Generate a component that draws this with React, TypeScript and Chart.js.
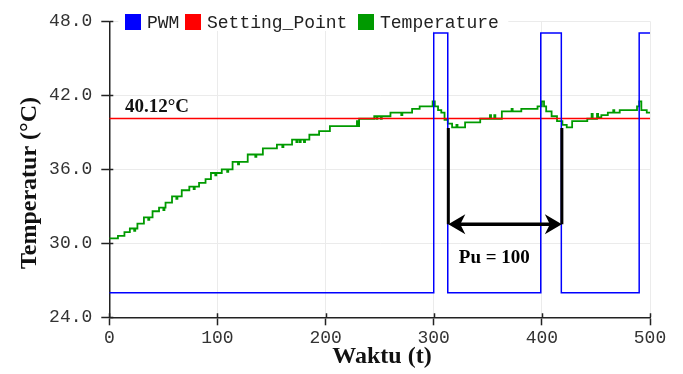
import React, { useEffect, useRef } from 'react';
import { Chart, registerables } from 'chart.js';

Chart.register(...registerables);

// ---- data ----
const seriesLabels = ['PWM', 'Setting_Point', 'Temperature'];
const seriesColors = ['#0000ff', '#ff0000', '#009a00'];

const pwmTimes = [0, 300, 313, 399, 418, 490, 500];
const pwmValues = [26.0, 47.05, 26.0, 47.05, 26.0, 47.05, 47.05];

const setpointTimes = [0, 500];
const setpointValues = [40.12, 40.12];

const tempTimes = [
  0, 8, 14, 19, 23, 24, 26, 32, 36, 37, 40, 46, 50, 51, 52, 58, 62, 63, 67, 74,
  78, 79, 83, 89, 94, 98, 99, 104, 109, 110, 114, 119, 120, 128, 135, 136, 142,
  155, 160, 161, 169, 173, 174, 176, 177, 180, 181, 185, 194, 204, 229, 230, 231,
  245, 247, 248, 251, 252, 260, 270, 271, 280, 287, 299, 301, 304, 307, 310, 313,
  317, 321, 322, 329, 343, 352, 353, 356, 357, 363, 372, 373, 381, 396, 400, 402,
  404, 409, 414, 419, 423, 428, 442, 446, 447, 451, 452, 455, 461, 466, 467, 472,
  488, 490, 492, 497, 500,
];
const tempValues = [
  30.4, 30.6, 30.9, 31.2, 31.0, 31.2, 31.6, 32.1, 31.9, 32.1, 32.6, 32.9, 32.7, 32.9,
  33.3, 33.8, 33.6, 33.8, 34.3, 34.6, 34.4, 34.6, 34.9, 35.2, 35.7, 35.5, 35.7, 36.0,
  35.8, 36.0, 36.6, 36.4, 36.6, 37.2, 37.0, 37.2, 37.7, 38.0, 37.8, 38.0, 38.4, 38.2,
  38.4, 38.2, 38.4, 38.2, 38.4, 38.8, 39.1, 39.5, 39.9, 39.5, 40.1, 40.3, 40.1, 40.3,
  40.1, 40.3, 40.6, 40.4, 40.6, 40.9, 41.1, 41.5, 41.1, 40.8, 40.6, 40.0, 39.7, 39.4,
  39.6, 39.4, 39.8, 40.1, 40.4, 40.1, 40.4, 40.1, 40.7, 40.9, 40.7, 40.9, 41.1, 41.5,
  41.1, 40.7, 40.3, 39.9, 39.6, 39.4, 39.9, 40.1, 40.5, 40.1, 40.5, 40.2, 40.4, 40.6,
  40.8, 40.6, 40.8, 41.1, 41.5, 40.8, 40.6, 40.6,
];

const xTicks = [0, 100, 200, 300, 400, 500];
const yTicks = [24, 30, 36, 42, 48];

const xTitle = 'Waktu (t)';
const yTitle = 'Temperatur (°C)';
const setpointText = '40.12°C';
const periodText = 'Pu = 100';
const periodStart = 313.5;
const periodEnd = 418.5;

const toPoints = (xs: number[], ys: number[]) => xs.map((x, i) => ({ x, y: ys[i] }));

const overlay = {
  id: 'overlay',
  afterDraw(chart: any) {
    const { ctx, chartArea } = chart;
    const x = chart.scales.x;
    const y = chart.scales.y;
    ctx.save();

    // inner part of the tick marks
    ctx.strokeStyle = '#222';
    ctx.lineWidth = 1.5;
    ctx.beginPath();
    for (const v of yTicks) {
      const py = Math.round(y.getPixelForValue(v)) + 0.5;
      ctx.moveTo(chartArea.left, py);
      ctx.lineTo(chartArea.left + 4, py);
    }
    for (const v of xTicks) {
      const px = Math.round(x.getPixelForValue(v)) + 0.5;
      ctx.moveTo(px, chartArea.bottom);
      ctx.lineTo(px, chartArea.bottom - 4);
    }
    ctx.stroke();

    // legend
    ctx.fillStyle = '#ffffff';
    ctx.fillRect(chartArea.left + 9, 8, 390, 23);
    const boxX = [125, 185, 358];
    ctx.font = '18px "Liberation Mono", monospace';
    ctx.textBaseline = 'alphabetic';
    ctx.textAlign = 'left';
    seriesLabels.forEach((lab, i) => {
      ctx.fillStyle = seriesColors[i];
      ctx.fillRect(boxX[i], 14, 16, 16);
      ctx.fillStyle = '#222';
      ctx.fillText(lab, boxX[i] + 22, 27.5);
    });

    // setpoint label
    ctx.fillStyle = '#111';
    ctx.font = 'bold 19px "Liberation Serif", serif';
    ctx.fillText(setpointText, x.getPixelForValue(14.5), y.getPixelForValue(40.67));

    // period annotation
    const x1 = x.getPixelForValue(periodStart);
    const x2 = x.getPixelForValue(periodEnd);
    const yTop = y.getPixelForValue(39.35);
    const yA = y.getPixelForValue(31.55);
    ctx.strokeStyle = '#000';
    ctx.fillStyle = '#000';
    ctx.lineWidth = 3;
    ctx.beginPath();
    ctx.moveTo(x1, yTop);
    ctx.lineTo(x1, yA);
    ctx.moveTo(x2, yTop);
    ctx.lineTo(x2, yA);
    ctx.stroke();
    ctx.lineWidth = 3.5;
    ctx.beginPath();
    ctx.moveTo(x1 + 10, yA);
    ctx.lineTo(x2 - 10, yA);
    ctx.stroke();
    const head = (tip: number, dir: number) => {
      ctx.beginPath();
      ctx.moveTo(tip, yA);
      ctx.lineTo(tip + dir * 17, yA - 10);
      ctx.lineTo(tip + dir * 12, yA);
      ctx.lineTo(tip + dir * 17, yA + 10);
      ctx.closePath();
      ctx.fill();
    };
    head(x1, 1);
    head(x2, -1);
    ctx.textAlign = 'center';
    ctx.fillText(periodText, x.getPixelForValue(356), y.getPixelForValue(28.4));

    // axis titles
    ctx.font = 'bold 24px "Liberation Serif", serif';
    ctx.textBaseline = 'middle';
    ctx.fillStyle = '#111';
    ctx.fillText(xTitle, 382, 357);
    ctx.translate(30, 183);
    ctx.rotate(-Math.PI / 2);
    ctx.fillText(yTitle, 0, 0);

    ctx.restore();
  },
};

export default function App() {
  const ref = useRef<HTMLCanvasElement | null>(null);

  useEffect(() => {
    document.body.style.margin = '0';
    if (!ref.current) return;
    const chart = new Chart(ref.current, {
      type: 'line',
      data: {
        datasets: [
          {
            label: seriesLabels[0],
            data: toPoints(pwmTimes, pwmValues),
            borderColor: seriesColors[0],
            backgroundColor: seriesColors[0],
            borderWidth: 1.5,
            stepped: true,
            pointRadius: 0,
          },
          {
            label: seriesLabels[1],
            data: toPoints(setpointTimes, setpointValues),
            borderColor: seriesColors[1],
            backgroundColor: seriesColors[1],
            borderWidth: 1.5,
            pointRadius: 0,
          },
          {
            label: seriesLabels[2],
            data: toPoints(tempTimes, tempValues),
            borderColor: seriesColors[2],
            backgroundColor: seriesColors[2],
            borderWidth: 1.8,
            stepped: true,
            pointRadius: 0,
          },
        ],
      },
      options: {
        animation: false,
        responsive: false,
        devicePixelRatio: 1,
        layout: { padding: { top: 21.3, right: 33, left: 0, bottom: 0 } },
        plugins: { legend: { display: false }, tooltip: { enabled: false } },
        scales: {
          x: {
            type: 'linear',
            min: 0,
            max: 500,
            afterFit: (s: any) => {
              s.height = 374 - 317.3;
            },
            afterBuildTicks: (s: any) => {
              s.ticks = xTicks.map((v) => ({ value: v }));
            },
            ticks: {
              font: { family: 'Liberation Mono', size: 18 },
              color: '#333',
              padding: 2,
              maxRotation: 0,
              autoSkip: false,
            },
            grid: { color: '#ebebeb', lineWidth: 1, tickLength: 8, tickColor: '#222', tickWidth: 1.5 },
            border: { color: '#222', width: 1.5 },
          },
          y: {
            min: 24,
            max: 48,
            afterFit: (s: any) => {
              s.width = 109.3;
            },
            afterBuildTicks: (s: any) => {
              s.ticks = yTicks.map((v) => ({ value: v }));
            },
            ticks: {
              font: { family: 'Liberation Mono', size: 18 },
              color: '#333',
              padding: 9,
              callback: (v: any) => Number(v).toFixed(1),
            },
            grid: { color: '#ebebeb', lineWidth: 1, tickLength: 8, tickColor: '#222', tickWidth: 1.5 },
            border: { color: '#222', width: 1.5 },
          },
        },
      },
      plugins: [overlay],
    });
    return () => chart.destroy();
  }, []);

  return (
    <div style={{ position: 'fixed', left: 0, top: 0, width: 683, height: 374, background: '#fff' }}>
      <canvas ref={ref} width={683} height={374} style={{ display: 'block' }} />
    </div>
  );
}
